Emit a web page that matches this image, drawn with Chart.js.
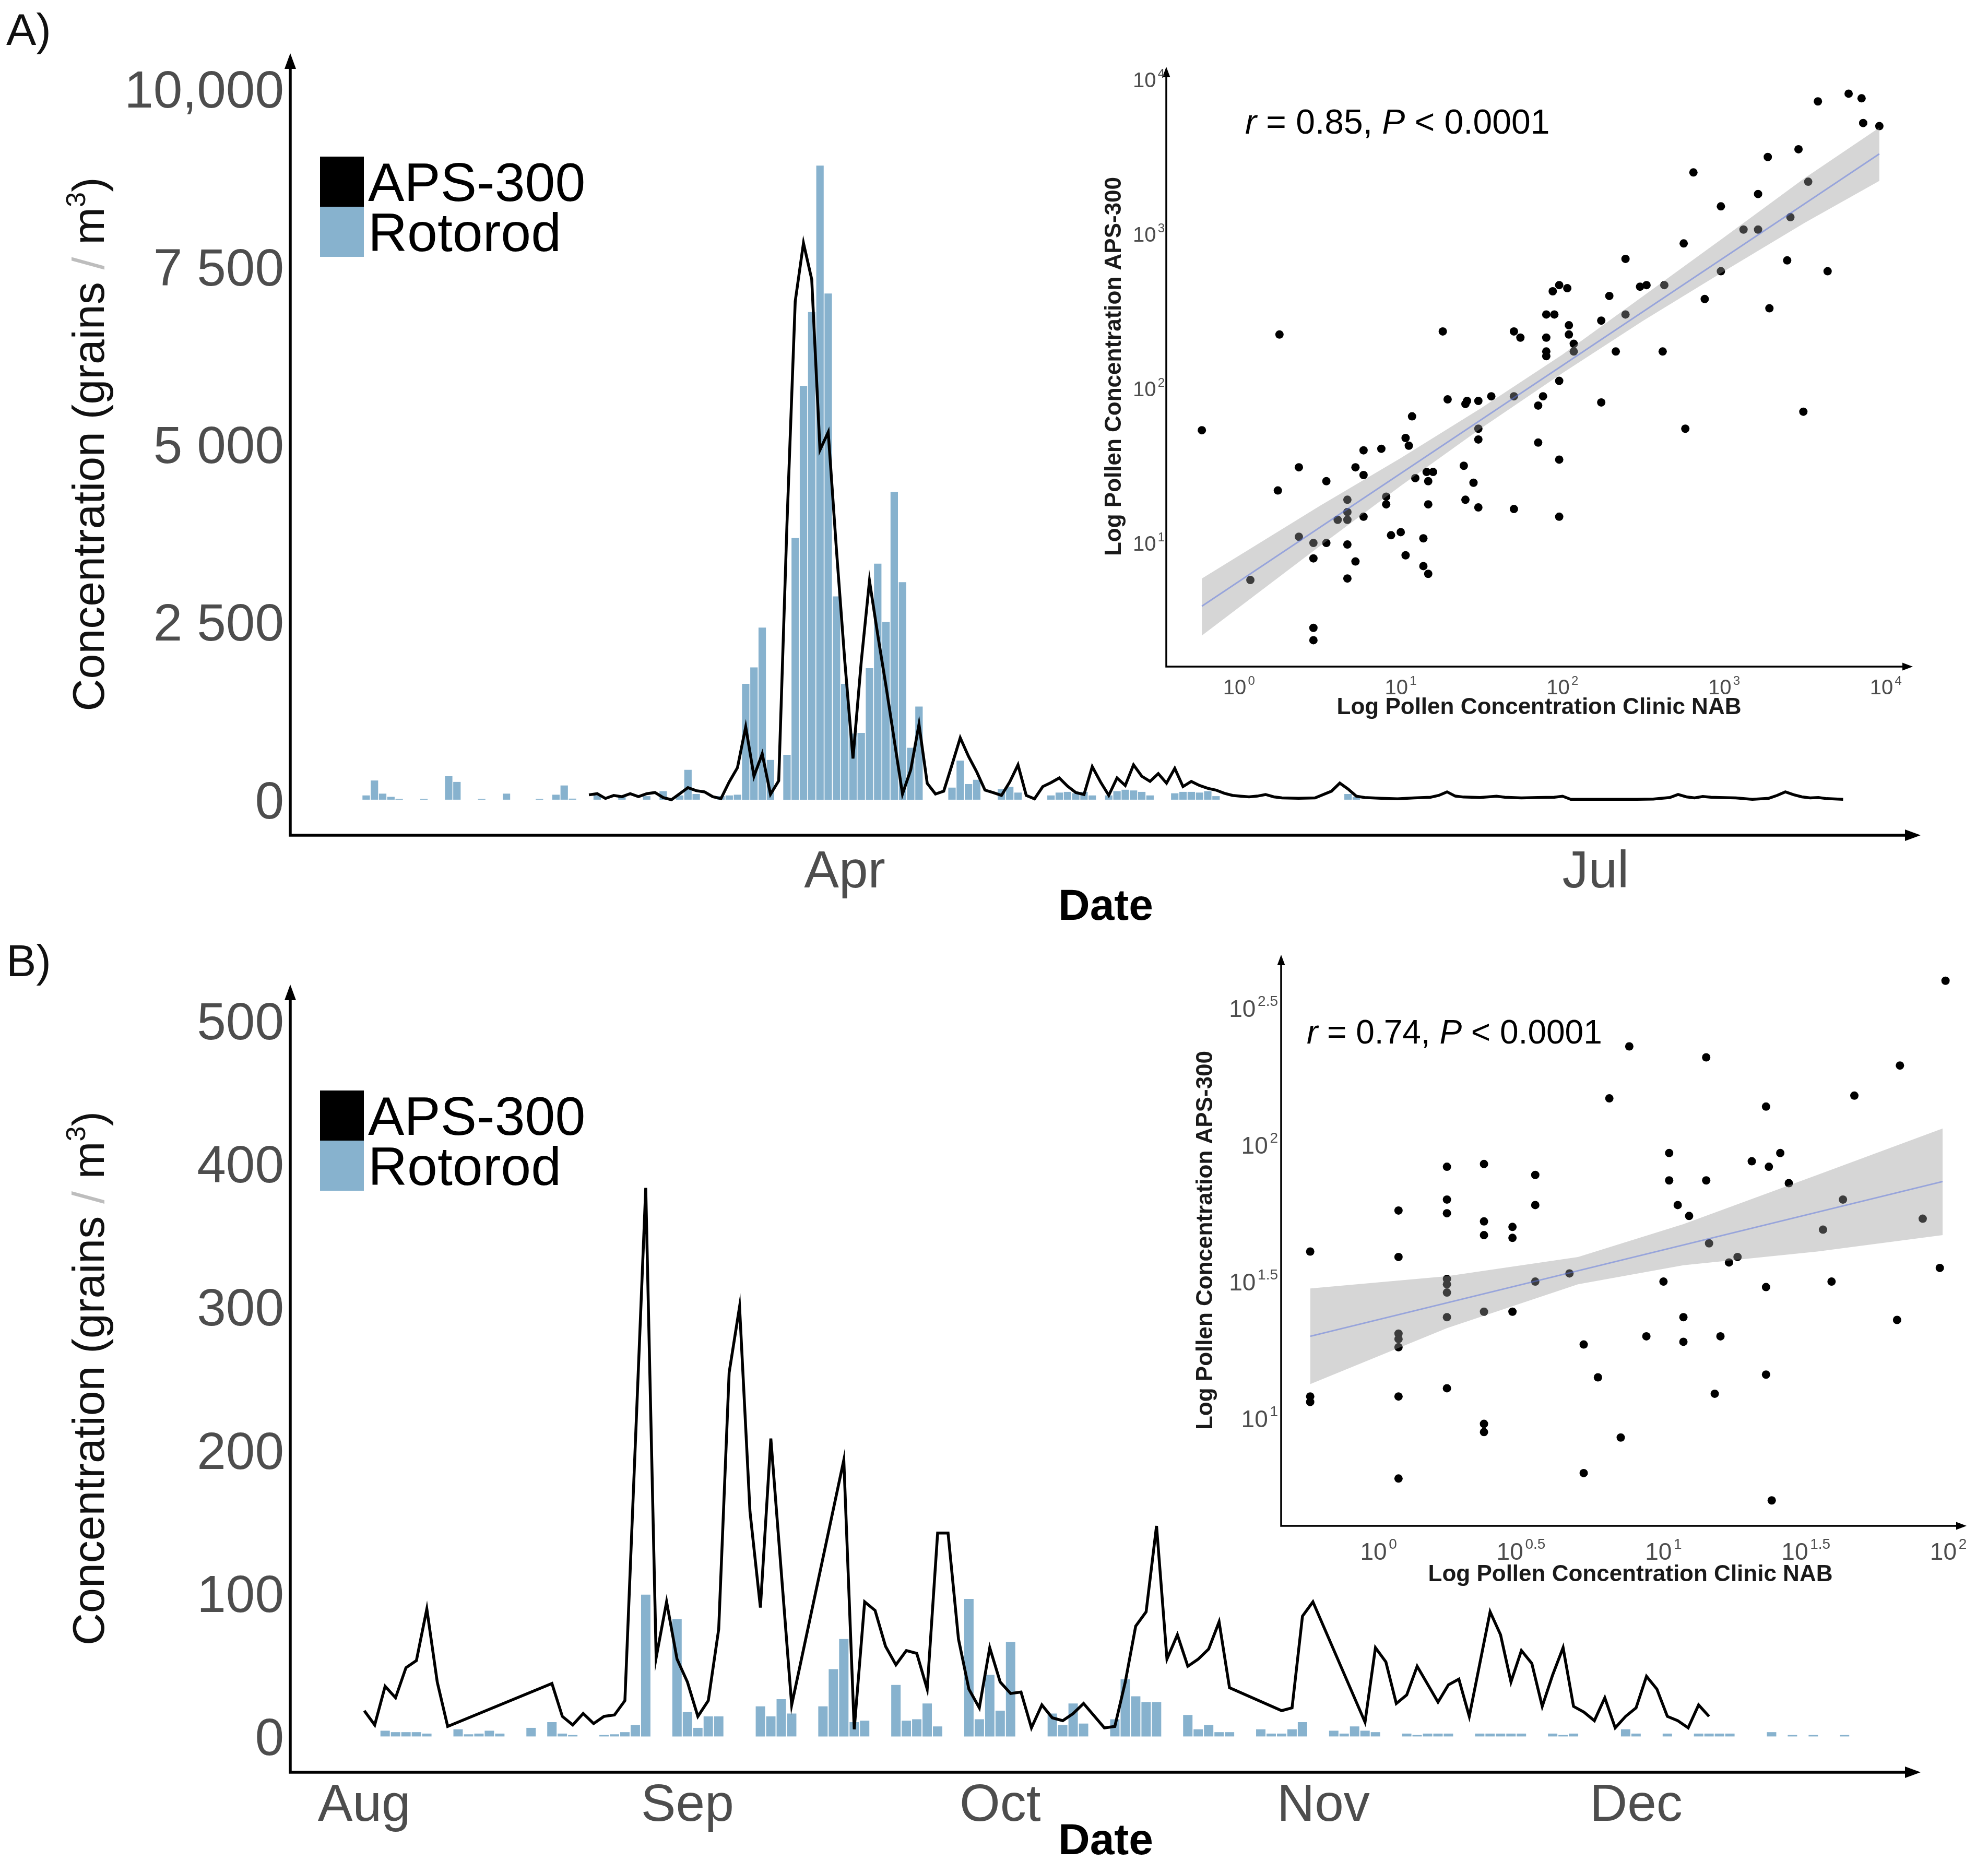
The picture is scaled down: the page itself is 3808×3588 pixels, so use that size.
<!DOCTYPE html>
<html>
<head>
<meta charset="utf-8">
<title>APS-300 vs Rotorod pollen counts</title>
<script src="https://cdn.jsdelivr.net/npm/chart.js@4.4.1/dist/chart.umd.min.js"></script>
<style>
  html, body { margin: 0; padding: 0; background: #fff; }
  #page { position: relative; width: 3808px; height: 3588px; background: #fff; overflow: hidden; }
  #page canvas { position: absolute; }
</style>
</head>
<body>
<div id="page">
  <canvas id="mainA" width="3808" height="1790" style="left:0;top:0"></canvas>
  <canvas id="mainB" width="3808" height="1798" style="left:0;top:1790px"></canvas>
  <canvas id="insetA" width="1728" height="1340" style="left:2080px;top:60px"></canvas>
  <canvas id="insetB" width="1588" height="1300" style="left:2220px;top:1790px"></canvas>
</div>
<script>
// ---------- Panel A (days counted from 1 April) ----------
const monthTicksA = [0, 91];
const monthLabelsA = ["Apr", "Jul"];
const yTicksA = [0, 2500, 5000, 7500, 10000];
const yLabelsA = ["0", "2 500", "5 000", "7 500", "10,000"];

const rotorodDaysA = [-58,-57,-56,-55,-54,-51,-48,-47,-44,-41,-37,-35,-34,-33,-30,-27,-24,-22,-20,-19,-18,-15,-14,-13,
  -12,-11,-10,-9,-7,-6,-5,-4,-3,-2,-1,0,1,2,3,4,5,6,7,8,9,13,14,15,16,19,20,21,25,26,27,28,29,30,
  32,33,34,35,36,37,40,41,42,43,44,45,61,62];
const rotorodValsA = [60,270,85,40,10,10,330,250,10,85,10,70,200,15,60,40,50,120,60,420,80,50,60,70,
  1630,1860,2420,560,630,3680,5820,6860,8920,7120,2860,1630,930,940,1850,3320,2500,4330,3060,730,1310,170,550,220,280,150,180,100,60,100,110,90,110,60,
  60,120,140,130,110,60,90,110,110,100,120,50,80,40];

const apsDaysA = [-31,-30,-29,-28,-27,-26,-25,-24,-23,-22,-21,-20,-19,-18,-17,-16,-15,-14,-13,-12,-11,-10,-9,-8,-7,-6,-5,-4,-3,-2,
  -1,0,1,2,3,4,5,6,7,8,9,10,11,12,13,14,15,16,17,18,19,20,21,22,23,24,25,26,27,28,29,30,31,32,33,34,35,36,37,38,
  39,40,41,42,43,44,45,46,47,48,49,50,51,52,53,55,57,59,60,61,62,63,64,65,67,69,71,72,73,74,75,77,79,80,
  82,84,86,87,88,90,92,94,96,98,100,101,102,103,104,105,106,108,110,112,113,114,115,116,117,118,119,120,121];
const apsValsA = [68,84,17,59,42,84,42,84,101,30,0,84,169,127,110,42,15,250,450,1025,330,646,76,266,3880,7010,7830,7320,4920,5170,
  3510,1960,580,1940,3080,2320,1600,840,80,420,1060,230,80,120,490,870,610,390,135,100,61,250,490,60,12,184,240,306,190,100,73,465,250,61,306,200,490,330,257,367,
  233,441,184,257,200,160,135,90,60,49,40,50,73,40,25,20,25,120,233,150,50,30,25,20,12,25,35,60,110,50,37,30,49,35,
  25,30,35,49,5,5,5,5,5,8,30,73,40,25,45,35,30,25,5,20,60,110,70,40,25,30,15,10,5];

// ---------- Panel B (days counted from 1 August) ----------
const monthTicksB = [0, 31, 61, 92, 122];
const monthLabelsB = ["Aug", "Sep", "Oct", "Nov", "Dec"];
const yTicksB = [0, 100, 200, 300, 400, 500];
const yLabelsB = ["0", "100", "200", "300", "400", "500"];

const rotorodDaysB = [2,3,4,5,6,9,10,11,12,13,16,18,19,20,23,24,25,26,27,30,31,32,33,34,38,39,40,41,44,45,46,47,48,
  51,52,53,54,55,58,59,60,61,62,66,67,68,69,72,73,74,75,76,79,80,81,82,83,86,87,88,89,90,93,94,95,96,97,
  100,101,102,103,104,107,108,109,110,111,114,115,116,121,122,125,128,129,130,131,135,137,139,142];
const rotorodValsB = [4,3,3,3,2,5,1.5,2,4,2,6,10,2,1,1,1.5,3,8,99,82,17,6,14,14,21,14,26,16,21,47,68,10,11,
  36,11,12,23,7,96,12,43,18,66,16,8,23,9,12,40,28,24,24,15,5,8,3,3,5,2,2,5,10,4,2,7,4,3,
  2,1,2,2,2,2,2,2,2,2,2,1,2,5,2,2,2,2,2,2,3,1,1,1];

const apsDaysB = [0,1,2,3,4,5,6,7,8,18,19,20,21,22,23,24,25,27,28,29,30,31,32,33,34,35,36,37,38,39,41,
  46,47,48,49,50,51,52,53,54,55,56,57,58,59,60,61,62,63,64,65,66,67,68,69,71,72,73,74,75,76,77,78,79,80,81,82,83,
  88,89,90,91,96,97,98,99,100,101,103,104,105,106,108,109,110,111,112,113,114,115,116,117,118,119,120,121,122,123,124,125,126,127,128,129];
const apsValsB = [18,8,35,27,48,53,89,38,7,37,14,8,16,9,14,15,25,383,55,94,54,38,14,25,75,254,300,157,90,208,22,
  193,5,94,88,63,50,60,58,33,142,142,68,33,20,62,38,30,31,6,22,13,11,16,23,6,7,38,77,87,147,54,71,49,54,61,80,34,
  18,20,84,94,10,62,52,23,29,49,24,36,40,14,87,71,38,60,51,21,43,62,21,17,11,27,6,14,20,42,33,14,11,6,22,14];

// ---------- Inset A (log10 concentrations) ----------
const nabLogA = [-0.23,0.07,0.25,0.24,0.37,0.37,0.46,0.46,0.46,0.46,0.54,0.54,0.61,0.67,0.67,0.67,0.67,0.67,0.72,0.72,
  0.77,0.77,0.77,0.88,0.91,0.91,0.94,1.00,1.03,1.05,1.03,1.07,1.09,1.14,1.14,1.16,1.17,1.17,1.17,1.20,
  1.26,1.29,1.39,1.40,1.40,1.41,1.45,1.48,1.48,1.48,1.48,1.56,1.70,1.74,1.70,1.70,1.85,1.85,1.88,1.90,
  1.90,1.90,1.90,1.95,1.94,1.98,2.03,1.98,1.98,1.98,2.04,2.04,2.07,2.07,2.24,2.24,2.29,2.33,2.39,2.39,
  2.48,2.52,2.62,2.63,2.75,2.76,2.81,2.88,2.98,2.98,3.12,3.21,3.21,3.27,3.28,3.39,3.41,3.46,3.49,3.52,
  3.58,3.64,3.77,3.85,3.86,3.96];
const apsLogA = [1.73,0.76,2.35,1.34,1.49,1.04,1.00,0.90,0.45,0.37,1.40,1.00,1.15,1.28,1.20,1.15,0.99,0.77,1.49,0.88,
  1.60,1.44,1.17,1.61,1.30,1.25,1.05,1.07,1.68,1.63,0.92,1.82,1.42,1.03,0.85,1.46,1.40,1.25,0.80,1.46,
  2.37,1.93,1.50,1.28,1.90,1.92,1.39,1.74,1.67,1.92,1.23,1.95,2.37,2.33,1.95,1.22,1.65,1.89,1.95,2.33,
  2.24,2.21,2.48,2.48,2.63,2.67,2.65,2.05,1.54,1.17,2.41,2.35,2.29,2.24,2.44,1.91,2.60,2.24,2.84,2.48,
  2.66,2.67,2.24,2.67,2.94,1.74,3.40,2.58,3.18,2.76,3.03,3.03,3.26,3.50,2.52,2.83,3.11,3.55,1.85,3.34,
  3.86,2.76,3.91,3.88,3.72,3.70];
const fitXA = [-0.23, 3.96];
const fitYA = [0.59, 3.52];
const bandXA = [-0.23, 0.5, 1.0, 1.5, 2.0, 2.5, 3.0, 3.5, 3.96];
const bandLoA = [0.40, 0.98, 1.37, 1.745, 2.10, 2.44, 2.76, 3.075, 3.345];
const bandHiA = [0.77, 1.24, 1.55, 1.875, 2.22, 2.60, 2.98, 3.365, 3.69];
const logTicksXA = [0, 1, 2, 3, 4];
const logTicksYA = [1, 2, 3, 4];
const statA = { r: "0.85", p: "0.0001" };

// ---------- Inset B (log10 concentrations) ----------
const nabLogB = [-0.24,-0.24,-0.24,0.07,0.07,0.07,0.07,0.07,0.07,0.07,0.24,0.24,0.24,0.24,0.24,0.24,0.24,0.24,
  0.37,0.37,0.37,0.37,0.37,0.37,0.47,0.47,0.47,0.55,0.55,0.55,0.67,0.72,0.72,0.77,0.81,0.85,0.88,0.94,
  1.00,1.02,1.02,1.05,1.07,1.07,1.09,1.15,1.15,1.16,1.20,1.18,1.23,1.26,1.31,1.36,1.37,1.36,1.36,1.38,
  1.41,1.44,1.56,1.59,1.63,1.67,1.82,1.83,1.91,1.97,1.99];
const apsLogB = [1.61,1.08,1.06,1.76,1.59,1.31,1.29,1.26,1.08,0.78,1.92,1.80,1.75,1.51,1.49,1.46,1.37,1.11,
  1.93,1.72,1.67,1.39,0.98,0.95,1.70,1.66,1.39,1.89,1.78,1.50,1.53,1.27,0.80,1.15,2.17,0.93,2.36,1.30,
  1.50,1.97,1.87,1.78,1.37,1.28,1.74,2.32,1.87,1.64,1.30,1.09,1.57,1.59,1.94,2.14,1.92,1.48,1.16,0.70,
  1.97,1.86,1.69,1.50,1.80,2.18,1.36,2.29,1.73,1.55,2.60];
const fitXB = [-0.24, 1.98];
const fitYB = [1.30, 1.866];
const bandXB = [-0.24, 0.24, 0.7, 1.07, 1.54, 1.98];
const bandLoB = [1.125, 1.33, 1.49, 1.56, 1.61, 1.67];
const bandHiB = [1.475, 1.52, 1.59, 1.71, 1.89, 2.06];
const logTicksXB = [0, 0.5, 1, 1.5, 2];
const logTicksYB = [1, 1.5, 2, 2.5];
const statB = { r: "0.74", p: "0.0001" };

// ---------- drawing helpers ----------
const FONT = '"Liberation Sans", Arial, Helvetica, sans-serif';
const TICK_GREY = "#4D4D4D";
const BAR_BLUE = "#87B2CE";

const zip = (xs, ys) => xs.map((x, i) => ({ x: x, y: ys[i] }));

function axisArrows(ctx, a, lw, len, half) {
  ctx.strokeStyle = "#000";
  ctx.fillStyle = "#000";
  ctx.lineWidth = lw;
  ctx.lineJoin = "miter";
  ctx.beginPath();
  ctx.moveTo(a.left, a.top + len * 0.6);
  ctx.lineTo(a.left, a.bottom);
  ctx.lineTo(a.right - len * 0.6, a.bottom);
  ctx.stroke();
  ctx.beginPath();
  ctx.moveTo(a.left, a.top);
  ctx.lineTo(a.left - half, a.top + len);
  ctx.lineTo(a.left + half, a.top + len);
  ctx.closePath();
  ctx.fill();
  ctx.beginPath();
  ctx.moveTo(a.right, a.bottom);
  ctx.lineTo(a.right - len, a.bottom - half);
  ctx.lineTo(a.right - len, a.bottom + half);
  ctx.closePath();
  ctx.fill();
}

// "10" with a raised exponent, y = baseline of the "10"
function drawPow(ctx, exp, x, base, size, align) {
  const sup = Math.round(size * 0.6);
  ctx.font = size + "px " + FONT;
  const w1 = ctx.measureText("10").width;
  ctx.font = sup + "px " + FONT;
  const w2 = ctx.measureText(exp).width;
  const gap = size * 0.08;
  const total = w1 + w2 + gap;
  const x0 = align === "center" ? x - total / 2 : x - total;
  ctx.textAlign = "left";
  ctx.textBaseline = "alphabetic";
  ctx.font = size + "px " + FONT;
  ctx.fillText("10", x0, base);
  ctx.font = sup + "px " + FONT;
  ctx.fillText(exp, x0 + w1 + gap, base - size * 0.45);
}

function yTitle(ctx, cx, cy) {
  const size = 86, sup = 52;
  const parts = [
    { t: "Concentration (grains", s: size, c: "#111", dy: 0 },
    { t: " / ", s: size, c: "#BDBDBD", dy: 0 },
    { t: "m", s: size, c: "#111", dy: 0 },
    { t: "3", s: sup, c: "#111", dy: -size * 0.42 },
    { t: ")", s: size, c: "#111", dy: 0 }
  ];
  ctx.save();
  ctx.translate(cx, cy);
  ctx.rotate(-Math.PI / 2);
  let total = 0;
  parts.forEach(p => { ctx.font = p.s + "px " + FONT; p.w = ctx.measureText(p.t).width; total += p.w; });
  let xx = -total / 2;
  ctx.textAlign = "left";
  ctx.textBaseline = "alphabetic";
  parts.forEach(p => {
    ctx.font = p.s + "px " + FONT;
    ctx.fillStyle = p.c;
    ctx.fillText(p.t, xx, size * 0.36 + p.dy);
    xx += p.w;
  });
  ctx.restore();
}

function drawStat(ctx, stat, x, base, size) {
  const parts = [["r", "italic "], [" = " + stat.r + ", ", ""], ["P", "italic "], [" < " + stat.p, ""]];
  ctx.fillStyle = "#000";
  ctx.textAlign = "left";
  ctx.textBaseline = "alphabetic";
  let xx = x;
  parts.forEach(([t, st]) => {
    ctx.font = st + size + "px " + FONT;
    ctx.fillText(t, xx, base);
    xx += ctx.measureText(t).width;
  });
}

function mainDecor(L) {
  return {
    id: "mainDecor",
    afterDraw(chart) {
      const ctx = chart.ctx, a = chart.chartArea;
      const x = chart.scales.x, y = chart.scales.y;
      ctx.save();
      axisArrows(ctx, a, 5.5, 30, 11);

      ctx.fillStyle = TICK_GREY;
      ctx.font = "100px " + FONT;
      ctx.textAlign = "right";
      ctx.textBaseline = "alphabetic";
      L.yTicks.forEach((v, i) => ctx.fillText(L.yLabels[i], a.left - 12, y.getPixelForValue(v) + 36));
      ctx.textAlign = "center";
      L.xTicks.forEach((v, i) => ctx.fillText(L.xLabels[i], x.getPixelForValue(v), L.monthBase));

      ctx.fillStyle = "#000";
      ctx.font = "bold 84px " + FONT;
      ctx.textBaseline = "middle";
      ctx.fillText("Date", L.dateX, L.dateY);

      yTitle(ctx, 168, (a.top + a.bottom) / 2);

      ctx.fillStyle = "#111";
      ctx.textAlign = "left";
      ctx.textBaseline = "alphabetic";
      ctx.font = "86px " + FONT;
      ctx.fillText(L.tag, 12, L.tagBase);

      // legend
      const ds = chart.data.datasets;
      const sw = [{ c: "#000", label: ds[0].label }, { c: BAR_BLUE, label: ds[1].label }];
      sw.forEach((s, i) => {
        const top = L.legTop + i * 96;
        ctx.fillStyle = s.c;
        ctx.fillRect(613, top, 84, 96);
        ctx.fillStyle = "#000";
        ctx.font = "104px " + FONT;
        ctx.fillText(s.label, 705, top + 48 + 37);
      });
      ctx.restore();
    }
  };
}

function mainChart(id, L) {
  return new Chart(document.getElementById(id), {
    type: "bar",
    data: {
      datasets: [
        { type: "line", label: "APS-300", data: zip(L.lineDays, L.lineVals), borderColor: "#000",
          borderWidth: 5.5, pointRadius: 0, tension: 0, order: 1 },
        { type: "bar", label: "Rotorod", data: zip(L.barDays, L.barVals), backgroundColor: BAR_BLUE,
          barPercentage: 0.9, categoryPercentage: 1, order: 2 }
      ]
    },
    options: {
      responsive: false, animation: false, devicePixelRatio: 1,
      layout: { padding: L.pad },
      plugins: { legend: { display: false }, tooltip: { enabled: false } },
      scales: {
        x: { type: "linear", min: L.xMin, max: L.xMax, offset: false, display: false,
             afterBuildTicks: s => { s.ticks = L.xTicks.map(v => ({ value: v })); } },
        y: { type: "linear", min: L.yMin, max: L.yMax, display: false,
             afterBuildTicks: s => { s.ticks = L.yTicks.map(v => ({ value: v })); } }
      }
    },
    plugins: [mainDecor(L)]
  });
}

function insetDecor(I) {
  return {
    id: "insetDecor",
    afterDraw(chart) {
      const ctx = chart.ctx, a = chart.chartArea;
      const x = chart.scales.x, y = chart.scales.y;
      ctx.save();
      axisArrows(ctx, a, 3.5, 20, 7.5);
      ctx.fillStyle = TICK_GREY;
      const fs = I.tickSize;
      I.xTicks.forEach(v => drawPow(ctx, String(v), x.getPixelForValue(v), I.xLabelBase, fs, "center"));
      I.yTicks.forEach(v => drawPow(ctx, String(v), I.yLabelRight, y.getPixelForValue(v) + fs * 0.36, fs, "right"));

      ctx.fillStyle = "#1A1A1A";
      ctx.font = "bold 44px " + FONT;
      ctx.textAlign = "center";
      ctx.textBaseline = "middle";
      ctx.fillText("Log Pollen Concentration Clinic NAB", I.xTitle[0], I.xTitle[1]);
      ctx.save();
      ctx.translate(I.yTitle[0], I.yTitle[1]);
      ctx.rotate(-Math.PI / 2);
      ctx.fillText("Log Pollen Concentration APS-300", 0, 0);
      ctx.restore();

      drawStat(ctx, I.stat, I.note[0], I.note[1], I.noteSize);
      ctx.restore();
    }
  };
}

function insetChart(id, I) {
  return new Chart(document.getElementById(id), {
    type: "scatter",
    data: {
      datasets: [
        { type: "line", data: zip(I.fitX, I.fitY), borderColor: "rgba(90,115,225,0.5)", borderWidth: 3,
          pointRadius: 0, fill: false },
        { type: "line", data: zip(I.bandX, I.bandHi), borderColor: "rgba(0,0,0,0)", pointRadius: 0,
          fill: "+1", backgroundColor: "rgba(153,153,153,0.4)" },
        { type: "line", data: zip(I.bandX, I.bandLo), borderColor: "rgba(0,0,0,0)", pointRadius: 0, fill: false },
        { type: "scatter", data: zip(I.nab, I.aps), backgroundColor: "#000", borderColor: "#000",
          borderWidth: 0, pointRadius: 8 }
      ]
    },
    options: {
      responsive: false, animation: false, devicePixelRatio: 1,
      layout: { padding: I.pad },
      plugins: { legend: { display: false }, tooltip: { enabled: false } },
      scales: {
        x: { type: "linear", min: I.xMin, max: I.xMax, display: false },
        y: { type: "linear", min: I.yMin, max: I.yMax, display: false }
      }
    },
    plugins: [insetDecor(I)]
  });
}

mainChart("mainA", {
  lineDays: apsDaysA, lineVals: apsValsA, barDays: rotorodDaysA, barVals: rotorodValsA,
  xTicks: monthTicksA, xLabels: monthLabelsA, yTicks: yTicksA, yLabels: yLabelsA,
  pad: { left: 556, right: 129, top: 102, bottom: 190 },
  xMin: -67.2, xMax: 130.4, yMin: -500, yMax: 10500,
  monthBase: 1700, dateX: 2118, dateY: 1739, tag: "A)", tagBase: 86, legTop: 300
});

mainChart("mainB", {
  lineDays: apsDaysB, lineVals: apsValsB, barDays: rotorodDaysB, barVals: rotorodValsB,
  xTicks: monthTicksB, xLabels: monthLabelsB, yTicks: yTicksB, yLabels: yLabelsB,
  pad: { left: 556, right: 129, top: 96, bottom: 193 },
  xMin: -7.1, xMax: 149.3, yMin: -25, yMax: 525,
  monthBase: 1698, dateX: 2118, dateY: 1739, tag: "B)", tagBase: 80, legTop: 299
});

insetChart("insetA", {
  nab: nabLogA, aps: apsLogA, fitX: fitXA, fitY: fitYA, bandX: bandXA, bandLo: bandLoA, bandHi: bandHiA,
  xTicks: logTicksXA, yTicks: logTicksYA, stat: statA,
  pad: { left: 154, right: 144, top: 68, bottom: 123 },
  xMin: -0.45, xMax: 4.167, yMin: 0.199, yMax: 4.084,
  tickSize: 40, xLabelBase: 1270, yLabelRight: 151, xTitle: [868, 1296], yTitle: [55, 642], note: [305, 196], noteSize: 66
});

insetChart("insetB", {
  nab: nabLogB, aps: apsLogB, fitX: fitXB, fitY: fitYB, bandX: bandXB, bandLo: bandLoB, bandHi: bandHiB,
  xTicks: logTicksXB, yTicks: logTicksYB, stat: statB,
  pad: { left: 234, right: 41, top: 39, bottom: 167 },
  xMin: -0.342, xMax: 2.064, yMin: 0.607, yMax: 2.695,
  tickSize: 46, xLabelBase: 1198, yLabelRight: 228, xTitle: [903, 1227], yTitle: [90, 586], note: [283, 209], noteSize: 64
});
</script>
</body>
</html>
